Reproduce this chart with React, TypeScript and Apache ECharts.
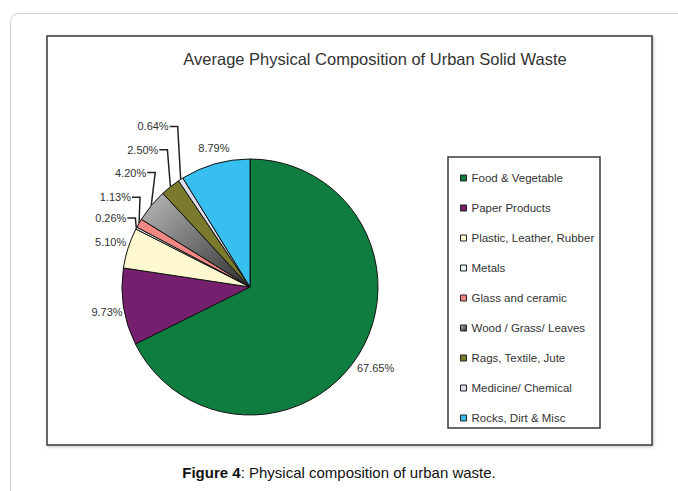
import React, { useEffect, useRef } from "react";
import * as echarts from "echarts";

const categories = [
  "Food & Vegetable",
  "Paper Products",
  "Plastic, Leather, Rubber",
  "Metals",
  "Glass and ceramic",
  "Wood / Grass/ Leaves",
  "Rags, Textile, Jute",
  "Medicine/ Chemical",
  "Rocks, Dirt & Misc",
];
const values = [67.65, 9.73, 5.1, 0.26, 1.13, 4.2, 2.5, 0.64, 8.79];
const withLine = [false, false, false, true, true, true, true, true, false];

// label layout tweaks (pixels)
const labelDx = [-12, 5, 4, 0, 0, 0, 0, 0, 21];
const labelDy = [10, 4, -4, 0, 0, 0, 0, 0, -10];
const labelRise = [0, 0, 0, 10, 26, 33, 37, 53, 0];
const labelBack = [0, 0, 0, 10, 8, 5, 12, 12, 0];

const woodGrad = new echarts.graphic.LinearGradient(1, 1, 0, 0.1, [
  { offset: 0, color: "#2e2e2e" },
  { offset: 1, color: "#b4b4b4" },
]);
const colors: any[] = [
  "#0f7d3f",
  "#75206f",
  "#fdf8cf",
  "#e4f1f4",
  "#f28883",
  woodGrad,
  "#7a7a2c",
  "#dcdcea",
  "#37c0ef",
];

const FONT = "'Liberation Sans', Arial, sans-serif";

export default function App() {
  const ref = useRef<HTMLDivElement>(null);
  useEffect(() => {
    if (!ref.current) return;
    const chart = echarts.init(ref.current, undefined, { renderer: "svg" });
    const data = categories.map((name, i) => ({
      name,
      value: values[i],
      itemStyle: { color: colors[i] },
      labelLine: withLine[i]
        ? { show: true, length: 12, length2: 10 }
        : { show: false, length: 6, length2: 0 },
    }));
    chart.setOption({
      animation: false,
      backgroundColor: "#ffffff",
      graphic: [
        {
          type: "rect",
          z: -10,
          shape: { x: 10.5, y: 13.5, width: 720, height: 520, r: 8 },
          style: { fill: "#fff", stroke: "#cfcfcf", lineWidth: 1 },
          silent: true,
        },
        {
          type: "rect",
          z: -5,
          shape: { x: 47, y: 36, width: 605, height: 409 },
          style: {
            fill: "#fff",
            stroke: "#3a3a3a",
            lineWidth: 1.5,
            shadowColor: "rgba(0,0,0,0.25)",
            shadowBlur: 3,
            shadowOffsetX: 1,
            shadowOffsetY: 1,
          },
          silent: true,
        },
        {
          type: "rect",
          z: -4,
          shape: { x: 448, y: 157, width: 152, height: 271 },
          style: { fill: "#fff", stroke: "#3a3a3a", lineWidth: 1.5 },
          silent: true,
        },
        {
          type: "text",
          x: 339,
          y: 472,
          style: {
            text: "{b|Figure 4}{n|: Physical composition of urban waste.}",
            align: "center",
            verticalAlign: "middle",
            rich: {
              b: { fontWeight: "bold", fontSize: 15, fontFamily: FONT, fill: "#111" },
              n: { fontSize: 15, fontFamily: FONT, fill: "#111" },
            },
          },
        },
      ],
      title: {
        text: "Average Physical Composition of Urban Solid Waste",
        left: 370,
        top: 45,
        textAlign: "center",
        textStyle: { fontSize: 16.5, fontWeight: "normal", color: "#333", fontFamily: FONT },
      },
      legend: {
        orient: "vertical",
        left: 455,
        top: 166,
        itemWidth: 6,
        itemHeight: 6,
        itemGap: 16,
        icon: "rect",
        data: categories,
        textStyle: { fontSize: 11.5, lineHeight: 14, color: "#333", fontFamily: FONT },
        itemStyle: { borderColor: "#222", borderWidth: 1 },
      },
      series: [
        {
          type: "pie",
          center: [250, 287],
          radius: 128,
          startAngle: 90,
          clockwise: true,
          data,
          itemStyle: { borderColor: "#111", borderWidth: 1 },
          label: {
            show: true,
            position: "outside",
            formatter: (p: any) => p.value.toFixed(2) + "%",
            fontSize: 11,
            color: "#333",
            fontFamily: FONT,
          },
          labelLine: { lineStyle: { color: "#222", width: 1.5 } },
          labelLayout: (params: any) => {
            const i = params.dataIndex;
            if (!withLine[i] || !params.labelLinePoints) {
              return { dx: labelDx[i], dy: labelDy[i] };
            }
            const p0 = params.labelLinePoints[0];
            const y = p0[1] - labelRise[i];
            const end = p0[0] - labelBack[i];
            const elbow = end + 9;
            return {
              x: end,
              y,
              align: "right",
              verticalAlign: "middle",
              labelLinePoints: [
                [p0[0], p0[1]],
                [elbow, y],
                [end + 1, y],
              ],
            };
          },
          emphasis: { disabled: true },
        },
      ],
    });
    return () => chart.dispose();
  }, []);
  return (
    <div
      ref={ref}
      style={{ position: "fixed", left: 0, top: 0, width: 678, height: 491 }}
    />
  );
}
